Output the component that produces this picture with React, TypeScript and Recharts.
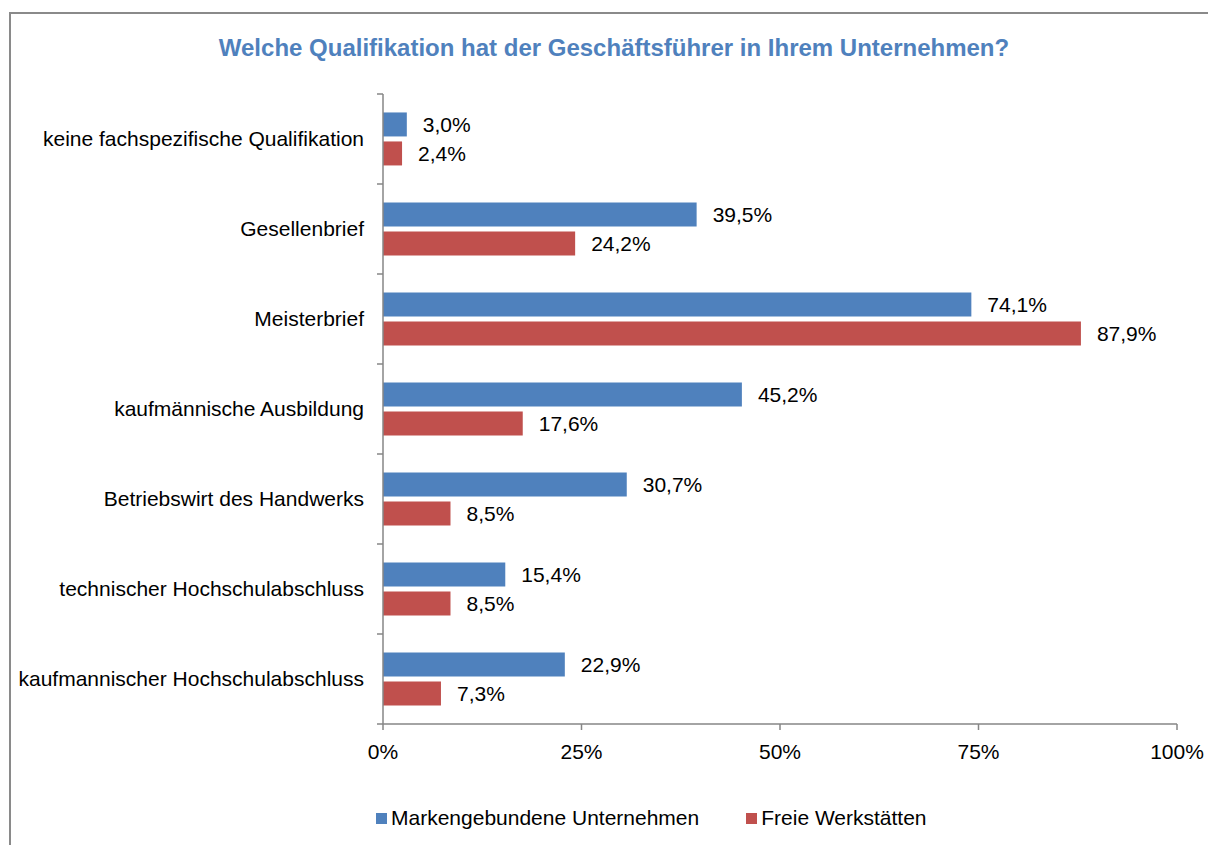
import React from "react";
import { BarChart, Bar, XAxis, YAxis, LabelList } from "recharts";

const categories = [
  "keine fachspezifische Qualifikation",
  "Gesellenbrief",
  "Meisterbrief",
  "kaufmännische Ausbildung",
  "Betriebswirt des Handwerks",
  "technischer Hochschulabschluss",
  "kaufmannischer Hochschulabschluss",
];
const markenValues = [3.0, 39.5, 74.1, 45.2, 30.7, 15.4, 22.9];
const freieValues = [2.4, 24.2, 87.9, 17.6, 8.5, 8.5, 7.3];
const xTicks = [0, 25, 50, 75, 100];
const seriesNames = ["Markengebundene Unternehmen", "Freie Werkstätten"];
const title = "Welche Qualifikation hat der Geschäftsführer in Ihrem Unternehmen?";

const BLUE = "#4F81BD";
const RED = "#C0504D";
const AXIS = "#868686";
const FONT = "'Liberation Sans', Arial, sans-serif";

const data = categories.map((name, i) => ({
  name,
  marken: markenValues[i],
  freie: freieValues[i],
}));

const fmt = (v: any) => `${Number(v).toFixed(1).replace(".", ",")}%`;

const YTick = (props: any) => {
  const { x, y, payload, index, visibleTicksCount } = props;
  const off = payload && payload.offset != null ? payload.offset : 45;
  const ax = x + 19;
  const last = index === (visibleTicksCount ?? categories.length) - 1;
  return (
    <g>
      <text
        x={x}
        y={y}
        dy="0.355em"
        textAnchor="end"
        fill="#000"
        fontSize={21}
        fontFamily={FONT}
      >
        {payload.value}
      </text>
      <line x1={ax - 6} x2={ax} y1={y - off} y2={y - off} stroke={AXIS} strokeWidth={1.5} />
      {last && (
        <line x1={ax - 6} x2={ax} y1={y + off} y2={y + off} stroke={AXIS} strokeWidth={1.5} />
      )}
    </g>
  );
};

export default function App() {
  return (
    <div
      style={{
        position: "relative",
        width: 1208,
        height: 845,
        overflow: "hidden",
        background: "#fff",
        fontFamily: FONT,
      }}
    >
      <style>{"html,body{margin:0;padding:0;overflow:hidden;background:#fff}"}</style>
      <div
        style={{
          position: "absolute",
          left: 9,
          top: 12,
          width: 1300,
          height: 900,
          border: "2px solid #8a8a8a",
          boxSizing: "border-box",
        }}
      />
      <div
        style={{
          position: "absolute",
          left: 0,
          width: 1228,
          top: 33,
          textAlign: "center",
          color: BLUE,
          fontWeight: "bold",
          fontSize: 24,
          lineHeight: "30px",
          fontFamily: FONT,
        }}
      >
        {title}
      </div>
      <div style={{ position: "absolute", left: 0, top: 0 }}>
        <BarChart
          width={1208}
          height={845}
          data={data}
          layout="vertical"
          margin={{ top: 94, right: 31, bottom: 91, left: 0 }}
          barCategoryGap="20.5%"
          barGap={5}
        >
          <XAxis
            type="number"
            domain={[0, 100]}
            ticks={xTicks}
            tickFormatter={(v: any) => `${v}%`}
            height={30}
            stroke={AXIS}
            strokeWidth={1.5}
            tickSize={6}
            tickMargin={14}
            tick={{ fill: "#000", fontSize: 21, fontFamily: FONT }}
            interval={0}
          />
          <YAxis
            type="category"
            dataKey="name"
            width={383}
            stroke={AXIS}
            strokeWidth={1.5}
            tickLine={false}
            tickSize={6}
            tickMargin={13}
            tick={<YTick />}
            interval={0}
          />
          <Bar dataKey="marken" name={seriesNames[0]} fill={BLUE} isAnimationActive={false}>
            <LabelList
              dataKey="marken"
              position="right"
              offset={16}
              formatter={fmt}
              fill="#000"
              fontSize={21}
              fontFamily={FONT}
            />
          </Bar>
          <Bar dataKey="freie" name={seriesNames[1]} fill={RED} isAnimationActive={false}>
            <LabelList
              dataKey="freie"
              position="right"
              offset={16}
              formatter={fmt}
              fill="#000"
              fontSize={21}
              fontFamily={FONT}
            />
          </Bar>
        </BarChart>
      </div>
      <div
        style={{
          position: "absolute",
          left: 376,
          top: 806,
          display: "flex",
          alignItems: "center",
          fontSize: 21,
          lineHeight: "24px",
          color: "#000",
          fontFamily: FONT,
        }}
      >
        <span style={{ display: "inline-block", width: 11, height: 11, background: BLUE, marginRight: 4 }} />
        <span>{seriesNames[0]}</span>
        <span
          style={{ display: "inline-block", width: 11, height: 11, background: RED, marginLeft: 47, marginRight: 4 }}
        />
        <span>{seriesNames[1]}</span>
      </div>
    </div>
  );
}
